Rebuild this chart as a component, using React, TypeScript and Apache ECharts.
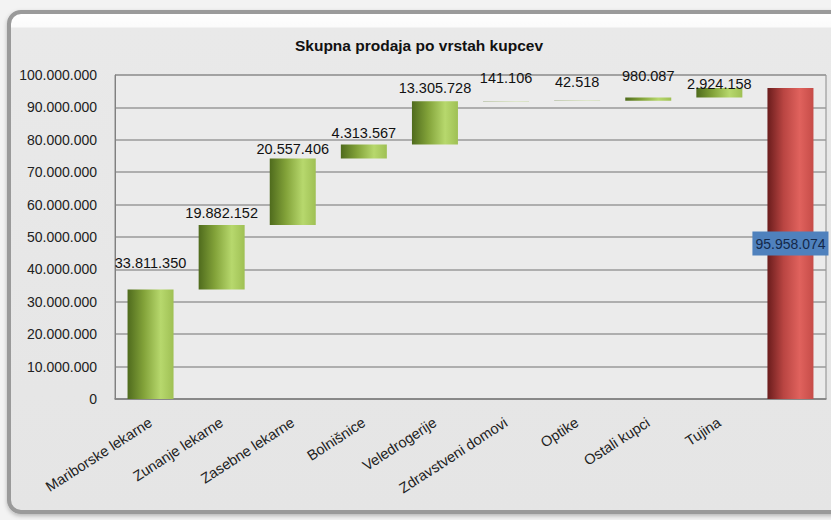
import React, { useEffect, useRef } from "react";
import * as echarts from "echarts";

const categories = [
  "Mariborske lekarne",
  "Zunanje lekarne",
  "Zasebne lekarne",
  "Bolnišnice",
  "Veledrogerije",
  "Zdravstveni domovi",
  "Optike",
  "Ostali kupci",
  "Tujina",
  "",
];
const increments = [33811350, 19882152, 20557406, 4313567, 13305728, 141106, 42518, 980087, 2924158];
const total = 95958074;
const yTicks = { min: 0, max: 100000000, interval: 10000000 };
const title = "Skupna prodaja po vrstah kupcev";

// label gaps (style, px)
const labelGap = [19, 5, 2, 4, 6, 15, 11, 14, -3];

const fmt = (v: number) => String(Math.round(v)).replace(/\B(?=(\d{3})+(?!\d))/g, ".");

export default function App() {
  const ref = useRef<HTMLDivElement>(null);
  useEffect(() => {
    document.body.style.margin = "0";
    const chart = echarts.init(ref.current!, null, { renderer: "svg" });
    const bases: number[] = [];
    let acc = 0;
    increments.forEach((v) => {
      bases.push(acc);
      acc += v;
    });
    const font = "Liberation Sans";
    const green = new echarts.graphic.LinearGradient(0, 0, 1, 0, [
      { offset: 0, color: "#4f6b1d" },
      { offset: 0.35, color: "#82a239" },
      { offset: 0.72, color: "#b7d86d" },
      { offset: 1, color: "#9fc054" },
    ]);
    const red = new echarts.graphic.LinearGradient(0, 0, 1, 0, [
      { offset: 0, color: "#6a1c1c" },
      { offset: 0.35, color: "#b94542" },
      { offset: 0.7, color: "#e0625d" },
      { offset: 1, color: "#c64c48" },
    ]);
    chart.setOption({
      animation: false,
      backgroundColor: "#f3f3f3",
      graphic: [
        {
          type: "rect",
          z: -10,
          shape: { x: 9, y: 12, width: 840, height: 500, r: 12 },
          style: {
            fill: new echarts.graphic.LinearGradient(0, 0, 0, 1, [
              { offset: 0, color: "#ffffff" },
              { offset: 0.03, color: "#fbfbfb" },
              { offset: 0.032, color: "#e9e9e9" },
              { offset: 1, color: "#e5e5e5" },
            ]),
            stroke: "#9a9a9a",
            lineWidth: 4,
            shadowColor: "rgba(0,0,0,0.25)",
            shadowBlur: 4,
            shadowOffsetY: 2,
          },
        },
      ],
      title: {
        text: title,
        left: 414,
        textAlign: "center",
        top: 32,
        textStyle: { fontFamily: font, fontSize: 15.5, fontWeight: "bold", color: "#111" },
      },
      grid: {
        left: 115,
        right: 5,
        top: 75,
        bottom: 121,
        show: true,
        backgroundColor: "#ebebeb",
        borderColor: "#8a8a8a",
        borderWidth: 1,
      },
      xAxis: {
        type: "category",
        data: categories,
        axisLine: { lineStyle: { color: "#808080", width: 1.5 } },
        axisTick: { show: false },
        axisLabel: {
          rotate: 33,
          interval: 0,
          margin: 22,
          fontFamily: font,
          fontSize: 14.5,
          color: "#222",
        },
      },
      yAxis: {
        type: "value",
        min: yTicks.min,
        max: yTicks.max,
        interval: yTicks.interval,
        axisLine: { show: true, lineStyle: { color: "#808080" } },
        axisTick: { show: false },
        splitLine: { lineStyle: { color: "#9a9a9a", width: 1.5 } },
        axisLabel: {
          formatter: (v: number) => fmt(v),
          fontFamily: font,
          fontSize: 14,
          color: "#222",
          margin: 18,
        },
      },
      series: [
        {
          type: "bar",
          stack: "w",
          data: [...bases, 0],
          itemStyle: { color: "transparent" },
          silent: true,
          barWidth: 46,
        },
        {
          type: "bar",
          stack: "w",
          barWidth: 46,
          data: [
            ...increments.map((v, i) => ({
              value: v,
              itemStyle: { color: green },
              label: {
                show: true,
                position: "top",
                distance: labelGap[i],
                formatter: () => fmt(v),
                fontFamily: font,
                fontSize: 14.5,
                color: "#111",
              },
            })),
            {
              value: total,
              itemStyle: { color: red },
              label: {
                show: true,
                position: "inside",
                formatter: () => fmt(total),
                fontFamily: font,
                fontSize: 14,
                color: "#13284a",
                backgroundColor: "#4f81bd",
                padding: [5, 3, 5, 3],
              },
            },
          ],
        },
      ],
    });
    return () => chart.dispose();
  }, []);
  return <div ref={ref} style={{ position: "fixed", left: 0, top: 0, width: 831, height: 520 }} />;
}
